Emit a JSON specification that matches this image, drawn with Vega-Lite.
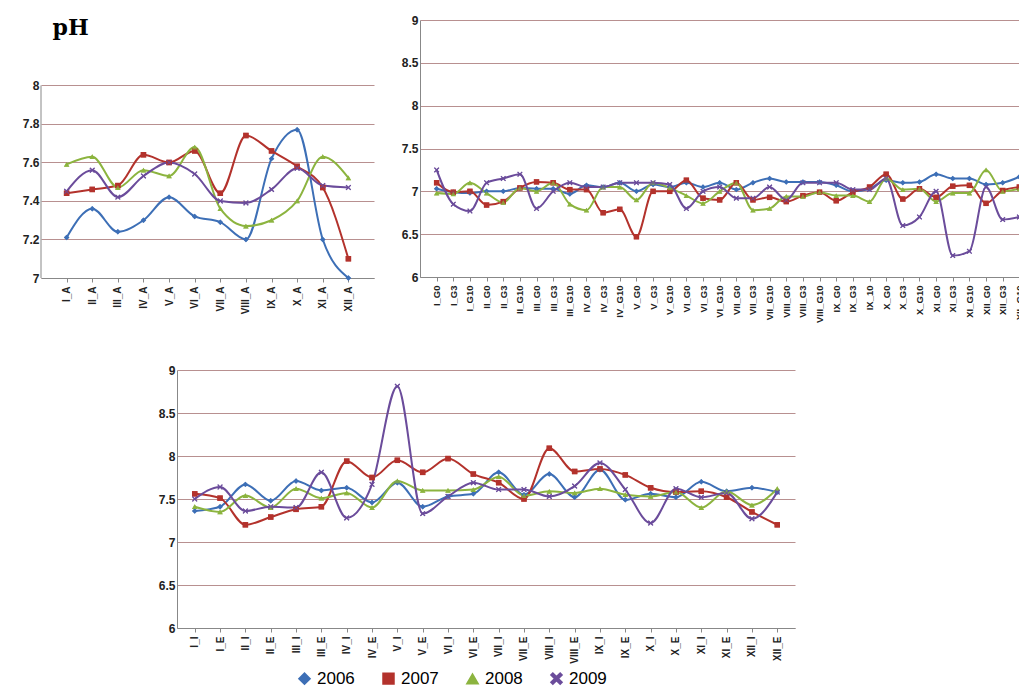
{
  "$schema": "https://vega.github.io/schema/vega-lite/v6.json",
  "padding": {"left": 22, "top": 14, "right": 0, "bottom": 0},
  "background": "white",
  "datasets": {
    "a": [
      {"cat": "I_A", "2006": 7.21, "2007": 7.44, "2008": 7.59, "2009": 7.45},
      {"cat": "II_A", "2006": 7.36, "2007": 7.46, "2008": 7.63, "2009": 7.56},
      {"cat": "III_A", "2006": 7.24, "2007": 7.48, "2008": 7.47, "2009": 7.42},
      {"cat": "IV_A", "2006": 7.3, "2007": 7.64, "2008": 7.56, "2009": 7.53},
      {"cat": "V_A", "2006": 7.42, "2007": 7.6, "2008": 7.53, "2009": 7.6},
      {"cat": "VI_A", "2006": 7.32, "2007": 7.66, "2008": 7.68, "2009": 7.54},
      {"cat": "VII_A", "2006": 7.29, "2007": 7.44, "2008": 7.36, "2009": 7.4},
      {"cat": "VIII_A", "2006": 7.2, "2007": 7.74, "2008": 7.27, "2009": 7.39},
      {"cat": "IX_A", "2006": 7.62, "2007": 7.66, "2008": 7.3, "2009": 7.46},
      {"cat": "X_A", "2006": 7.77, "2007": 7.58, "2008": 7.4, "2009": 7.57},
      {"cat": "XI_A", "2006": 7.2, "2007": 7.47, "2008": 7.63, "2009": 7.48},
      {"cat": "XII_A", "2006": 7.0, "2007": 7.1, "2008": 7.52, "2009": 7.47}
    ],
    "g": [
      {"cat": "I_G0", "2006": 7.03, "2007": 7.1, "2008": 6.98, "2009": 7.25},
      {"cat": "I_G3", "2006": 6.99, "2007": 6.99, "2008": 6.97, "2009": 6.85},
      {"cat": "I_G10", "2006": 6.98, "2007": 7.0, "2008": 7.1, "2009": 6.77},
      {"cat": "II_G0", "2006": 7.0, "2007": 6.84, "2008": 6.98, "2009": 7.1},
      {"cat": "II_G3", "2006": 7.0, "2007": 6.88, "2008": 6.87, "2009": 7.15},
      {"cat": "II_G10", "2006": 7.04, "2007": 7.04, "2008": 7.04, "2009": 7.2},
      {"cat": "III_G0", "2006": 7.03, "2007": 7.11, "2008": 7.0, "2009": 6.8},
      {"cat": "III_G3", "2006": 7.03, "2007": 7.1, "2008": 7.1, "2009": 7.0},
      {"cat": "III_G10", "2006": 6.97, "2007": 7.02, "2008": 6.85, "2009": 7.1},
      {"cat": "IV_G0", "2006": 7.07, "2007": 7.02, "2008": 6.78, "2009": 7.05},
      {"cat": "IV_G3", "2006": 7.05, "2007": 6.75, "2008": 7.05, "2009": 7.05},
      {"cat": "IV_G10", "2006": 7.1, "2007": 6.79, "2008": 7.05, "2009": 7.1},
      {"cat": "V_G0", "2006": 7.0, "2007": 6.47, "2008": 6.9, "2009": 7.1},
      {"cat": "V_G3", "2006": 7.08, "2007": 7.0, "2008": 7.1, "2009": 7.1},
      {"cat": "V_G10", "2006": 7.05, "2007": 7.0, "2008": 7.04, "2009": 7.08},
      {"cat": "VI_G0", "2006": 7.1, "2007": 7.13, "2008": 6.95, "2009": 6.8},
      {"cat": "VI_G3", "2006": 7.05, "2007": 6.92, "2008": 6.86, "2009": 7.0},
      {"cat": "VI_G10", "2006": 7.1, "2007": 6.9, "2008": 7.0, "2009": 7.05},
      {"cat": "VII_G0", "2006": 7.02, "2007": 7.1, "2008": 7.1, "2009": 6.92},
      {"cat": "VII_G3", "2006": 7.1, "2007": 6.9, "2008": 6.78, "2009": 6.92},
      {"cat": "VII_G10", "2006": 7.15, "2007": 6.93, "2008": 6.8, "2009": 7.05},
      {"cat": "VIII_G0", "2006": 7.11, "2007": 6.88, "2008": 6.94, "2009": 6.9},
      {"cat": "VIII_G3", "2006": 7.11, "2007": 6.95, "2008": 6.94, "2009": 7.1},
      {"cat": "VIII_G10", "2006": 7.11, "2007": 6.99, "2008": 6.99, "2009": 7.1},
      {"cat": "IX_G0", "2006": 7.07, "2007": 6.89, "2008": 6.95, "2009": 7.1},
      {"cat": "IX_G3", "2006": 7.0, "2007": 6.99, "2008": 6.95, "2009": 7.02},
      {"cat": "IX_10", "2006": 7.03, "2007": 7.05, "2008": 6.88, "2009": 7.02},
      {"cat": "X_G0", "2006": 7.13, "2007": 7.2, "2008": 7.15, "2009": 7.15},
      {"cat": "X_G3", "2006": 7.1, "2007": 6.91, "2008": 7.02, "2009": 6.6},
      {"cat": "X_G10", "2006": 7.11, "2007": 7.03, "2008": 7.03, "2009": 6.7},
      {"cat": "XI_G0", "2006": 7.2, "2007": 6.93, "2008": 6.88, "2009": 7.0},
      {"cat": "XI_G3", "2006": 7.15, "2007": 7.06, "2008": 6.98, "2009": 6.25},
      {"cat": "XI_G10", "2006": 7.15, "2007": 7.07, "2008": 6.98, "2009": 6.3},
      {"cat": "XII_G0", "2006": 7.08, "2007": 6.86, "2008": 7.25, "2009": 7.05},
      {"cat": "XII_G3", "2006": 7.1, "2007": 7.01, "2008": 7.0, "2009": 6.67},
      {"cat": "XII_G10", "2006": 7.17, "2007": 7.05, "2008": 7.03, "2009": 6.7}
    ],
    "ie": [
      {"cat": "I_I", "2006": 7.36, "2007": 7.56, "2008": 7.41, "2009": 7.5},
      {"cat": "I_E", "2006": 7.41, "2007": 7.51, "2008": 7.35, "2009": 7.64},
      {"cat": "II_I", "2006": 7.67, "2007": 7.2, "2008": 7.54, "2009": 7.36},
      {"cat": "II_E", "2006": 7.48, "2007": 7.29, "2008": 7.4, "2009": 7.41},
      {"cat": "III_I", "2006": 7.71, "2007": 7.38, "2008": 7.62, "2009": 7.4},
      {"cat": "III_E", "2006": 7.6, "2007": 7.41, "2008": 7.51, "2009": 7.81},
      {"cat": "IV_I", "2006": 7.63, "2007": 7.94, "2008": 7.57, "2009": 7.28},
      {"cat": "IV_E", "2006": 7.46, "2007": 7.75, "2008": 7.4, "2009": 7.67},
      {"cat": "V_I", "2006": 7.69, "2007": 7.95, "2008": 7.71, "2009": 8.81},
      {"cat": "V_E", "2006": 7.41, "2007": 7.81, "2008": 7.6, "2009": 7.33},
      {"cat": "VI_I", "2006": 7.53, "2007": 7.97, "2008": 7.6, "2009": 7.53},
      {"cat": "VI_E", "2006": 7.56, "2007": 7.79, "2008": 7.61, "2009": 7.69},
      {"cat": "VII_I", "2006": 7.81, "2007": 7.69, "2008": 7.76, "2009": 7.61},
      {"cat": "VII_E", "2006": 7.55, "2007": 7.5, "2008": 7.54, "2009": 7.61},
      {"cat": "VIII_I", "2006": 7.79, "2007": 8.09, "2008": 7.59, "2009": 7.53},
      {"cat": "VIII_E", "2006": 7.52, "2007": 7.82, "2008": 7.57, "2009": 7.65},
      {"cat": "IX_I", "2006": 7.84, "2007": 7.85, "2008": 7.62, "2009": 7.92},
      {"cat": "IX_E", "2006": 7.49, "2007": 7.78, "2008": 7.55, "2009": 7.61},
      {"cat": "X_I", "2006": 7.56, "2007": 7.63, "2008": 7.53, "2009": 7.22},
      {"cat": "X_E", "2006": 7.52, "2007": 7.58, "2008": 7.58, "2009": 7.62},
      {"cat": "XI_I", "2006": 7.7, "2007": 7.59, "2008": 7.4, "2009": 7.52},
      {"cat": "XI_E", "2006": 7.59, "2007": 7.52, "2008": 7.59, "2009": 7.57},
      {"cat": "XII_I", "2006": 7.63, "2007": 7.35, "2008": 7.43, "2009": 7.27},
      {"cat": "XII_E", "2006": 7.58, "2007": 7.2, "2008": 7.62, "2009": 7.58}
    ]
  },
  "vconcat": [
    {
      "hconcat": [
        {
          "width": 333,
          "height": 258,
          "encoding": {
            "x": {"field": "cat", "type": "ordinal", "title": null, "scale": {"type": "point", "padding": 1, "domain": ["I_A", "II_A", "III_A", "IV_A", "V_A", "VI_A", "VII_A", "VIII_A", "IX_A", "X_A", "XI_A", "XII_A"]}},
            "y": {"field": "ph", "type": "quantitative", "title": null, "scale": {"domain": [7, 8.34], "zero": false, "nice": false}, "axis": {"values": [7, 7.2, 7.4, 7.6, 7.8, 8], "format": ".1~f", "domain": false}}
          },
          "layer": [
            {
              "data": {"name": "a"},
              "transform": [{"fold": ["2006", "2007", "2008", "2009"], "as": ["year", "ph"]}],
              "encoding": {
                "color": {"field": "year", "type": "nominal", "title": null, "scale": {"domain": ["2006", "2007", "2008", "2009"]}},
                "shape": {"field": "year", "type": "nominal", "title": null, "scale": {"domain": ["2006", "2007", "2008", "2009"]}}
              },
              "layer": [
                {"mark": {"type": "line", "interpolate": "monotone", "strokeWidth": 2}},
                {"mark": {"type": "point", "filled": true, "size": 30, "strokeWidth": 1.2}}
              ]
            },
            {
              "data": {"values": [{"lo": 7, "hi": 8}]},
              "mark": {"type": "rule", "color": "#888"},
              "encoding": {
                "x": {"value": 0},
                "y": {"field": "lo", "type": "quantitative"},
                "y2": {"field": "hi"}
              }
            },
            {
              "data": {"values": [{"cat": "I_A", "ph": 8.3, "label": "pH"}]},
              "mark": {"type": "text", "font": "DejaVu Serif", "fontSize": 22, "fontWeight": "bold", "dx": 4},
              "encoding": {
                "text": {"field": "label"}
              }
            }
          ]
        },
        {
          "width": 616,
          "height": 257,
          "data": {"name": "g"},
          "transform": [{"fold": ["2006", "2007", "2008", "2009"], "as": ["year", "ph"]}],
          "encoding": {
            "x": {"field": "cat", "type": "ordinal", "sort": null, "title": null, "scale": {"type": "point", "padding": 1}, "axis": {"labelFontSize": 9.5}},
            "y": {"field": "ph", "type": "quantitative", "title": null, "scale": {"domain": [6, 9], "zero": false}, "axis": {"values": [6, 6.5, 7, 7.5, 8, 8.5, 9], "format": ".1~f"}},
            "color": {"field": "year", "type": "nominal", "title": null, "scale": {"domain": ["2006", "2007", "2008", "2009"]}},
            "shape": {"field": "year", "type": "nominal", "title": null, "scale": {"domain": ["2006", "2007", "2008", "2009"]}}
          },
          "layer": [
            {"mark": {"type": "line", "interpolate": "monotone", "strokeWidth": 2}},
            {"mark": {"type": "point", "filled": true, "size": 25, "strokeWidth": 1.2}}
          ]
        }
      ],
      "spacing": 27
    },
    {
      "hconcat": [
        {
          "width": 102,
          "height": 258,
          "data": {"values": [{}]},
          "mark": {"type": "text", "text": ""},
          "encoding": {}
        },
        {
          "width": 618,
          "height": 258,
          "data": {"name": "ie"},
          "transform": [{"fold": ["2006", "2007", "2008", "2009"], "as": ["year", "ph"]}],
          "encoding": {
            "x": {"field": "cat", "type": "ordinal", "sort": null, "title": null, "scale": {"type": "point", "padding": 0.7}},
            "y": {"field": "ph", "type": "quantitative", "title": null, "scale": {"domain": [6, 9], "zero": false}, "axis": {"values": [6, 6.5, 7, 7.5, 8, 8.5, 9], "format": ".1~f"}},
            "color": {"field": "year", "type": "nominal", "title": null, "scale": {"domain": ["2006", "2007", "2008", "2009"]}},
            "shape": {"field": "year", "type": "nominal", "title": null, "scale": {"domain": ["2006", "2007", "2008", "2009"]}}
          },
          "layer": [
            {"mark": {"type": "line", "interpolate": "monotone", "strokeWidth": 2}},
            {"mark": {"type": "point", "filled": true, "size": 30, "strokeWidth": 1.2}}
          ]
        }
      ],
      "spacing": 15
    }
  ],
  "spacing": 41,
  "resolve": {"scale": {"color": "shared", "shape": "shared"}},
  "config": {
    "font": "Liberation Sans",
    "view": {"stroke": null},
    "range": {
      "category": ["#3d6fb6", "#b3322c", "#8cb43f", "#6b4c9b"],
      "symbol": ["diamond", "square", "triangle-up", "M-1,-0.7L-0.7,-1L0,-0.3L0.7,-1L1,-0.7L0.3,0L1,0.7L0.7,1L0,0.3L-0.7,1L-1,0.7L-0.3,0Z"]
    },
    "axis": {"labelFontSize": 12, "labelFontWeight": "bold", "labelColor": "#222", "domainColor": "#888", "tickColor": "#888", "tickSize": 4, "gridColor": "#b89090", "gridWidth": 1},
    "axisX": {"labelAngle": -90, "grid": false, "labelFontSize": 10, "labelPadding": 4},
    "axisY": {"domain": true, "ticks": false},
    "legend": {"orient": "none", "legendX": 255, "legendY": 650, "direction": "horizontal", "labelFontSize": 17, "symbolSize": 110, "symbolStrokeWidth": 2, "columnPadding": 24}
  }
}
